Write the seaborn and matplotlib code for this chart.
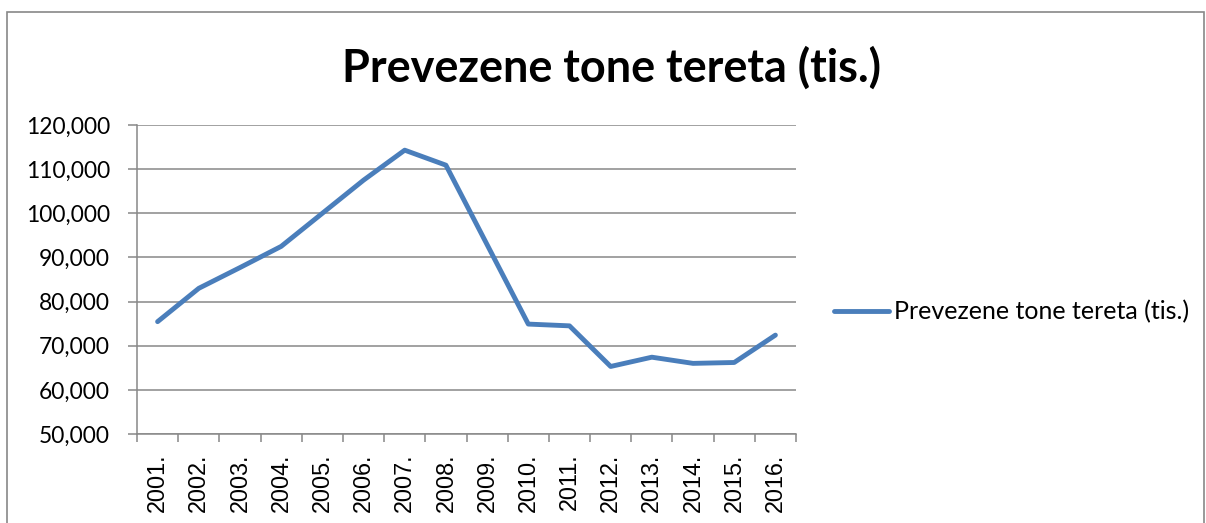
import numpy as np
import pandas as pd
import matplotlib
matplotlib.use("Agg")
import matplotlib.pyplot as plt
import matplotlib.ticker as mticker
from matplotlib.patches import Rectangle
import seaborn as sns

# data
years = ['2001.', '2002.', '2003.', '2004.', '2005.', '2006.', '2007.', '2008.',
         '2009.', '2010.', '2011.', '2012.', '2013.', '2014.', '2015.', '2016.']
tonnes = [75450, 83000, 87700, 92500, 100000, 107500, 114300, 110900,
          92900, 74900, 74500, 65300, 67400, 66000, 66200, 72400]
series_name = 'Prevezene tone tereta (tis.)'

df = pd.DataFrame({'year': years, 'tonnes': tonnes})

sns.set_style('white')
plt.rcParams['font.family'] = ['Lato', 'DejaVu Sans']
plt.rcParams['text.color'] = 'black'
plt.rcParams['xtick.color'] = 'black'
plt.rcParams['ytick.color'] = 'black'

grey = '#888888'
blue = '#4a7ebb'

fig = plt.figure(figsize=(12.06, 5.23), dpi=100)
ax = fig.add_axes([137 / 1206, 1 - 434 / 523, 659 / 1206, 309 / 523])

sns.lineplot(data=df, x='year', y='tonnes', ax=ax, color=blue, linewidth=3.5,
             sort=False, label=series_name, solid_capstyle='round')

ax.set_xlim(-0.5, len(years) - 0.5)
ax.set_ylim(50000, 120000)
ax.yaxis.set_major_locator(mticker.MultipleLocator(10000))
ax.yaxis.set_major_formatter(mticker.FuncFormatter(lambda v, p: f'{int(v):,}'))
ax.grid(axis='y', color=grey, linewidth=1.1)
ax.set_axisbelow(True)
ax.set_xlabel('')
ax.set_ylabel('')

for s in ['top', 'right']:
    ax.spines[s].set_visible(False)
for s in ['left', 'bottom']:
    ax.spines[s].set_color(grey)
    ax.spines[s].set_linewidth(1.1)

ax.tick_params(axis='y', which='major', length=6.5, width=1.1, color=grey,
               labelcolor='black', pad=13, labelsize=16.4, left=True)
ax.set_xticks(range(len(years)))
ax.set_xticklabels(years, rotation=90, family=['Liberation Sans'], fontsize=16.8)
ax.xaxis.set_minor_locator(mticker.FixedLocator(np.arange(-0.5, len(years), 1)))
ax.tick_params(axis='x', which='major', length=0, pad=14, labelcolor='black')
ax.tick_params(axis='x', which='minor', length=6, width=1.1, color=grey, bottom=True)

fig.suptitle(series_name, x=612 / 1206, y=1 - 68 / 523, va='center',
             fontsize=32.4, fontweight='bold', color='black')

leg = ax.legend(loc='center left', bbox_to_anchor=(834 / 1206, 1 - 312 / 523),
                bbox_transform=fig.transFigure, frameon=False, fontsize=18,
                handlelength=2.2, handletextpad=0.2, borderpad=0, borderaxespad=0)

fig.patches.append(Rectangle((7 / 1206, -0.1), 1197 / 1206, 1.1 - 12.5 / 523,
                             transform=fig.transFigure, fill=False,
                             edgecolor=grey, linewidth=1.2))

fig.savefig('out.png', dpi=100, facecolor='white')
